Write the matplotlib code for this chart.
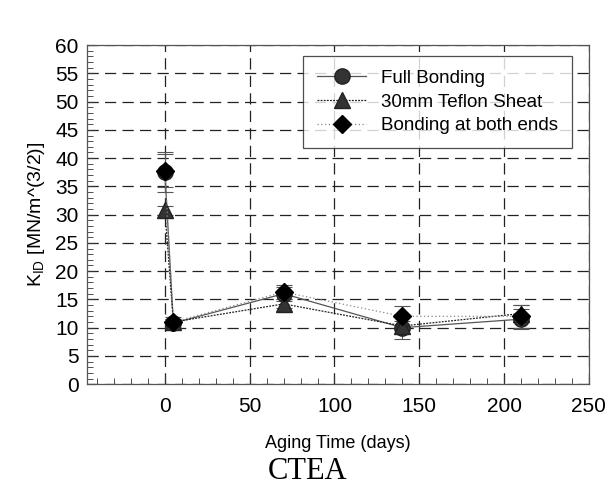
import matplotlib
matplotlib.use("Agg")
import matplotlib.pyplot as plt
from matplotlib.ticker import MultipleLocator
from matplotlib.lines import Line2D

days = [0, 5, 70, 140, 210]
full_bonding = [37.5, 10.8, 16.0, 10.0, 11.5]
full_bonding_err = [3.5, 0.8, 1.2, 2.0, 1.8]
teflon = [30.8, 11.0, 14.2, 10.3, 12.5]
teflon_err = [0.8, 0.5, 0.8, 0.8, 1.5]
both_ends = [37.8, 11.0, 16.3, 12.0, 12.0]
both_ends_err = [3.0, 0.8, 1.2, 1.8, 2.0]
labels = ['Full Bonding', '30mm Teflon Sheat', 'Bonding at both ends']

plt.rcParams['font.family'] = ['Liberation Sans', 'DejaVu Sans']

fig = plt.figure(figsize=(6.16, 4.90), dpi=100)
ax = fig.add_axes([0.141, 0.216, 0.815, 0.692])

styles = [
    dict(color='#555555', ls='-', marker='o', ms=11, mfc='#333333', mec='#222222'),
    dict(color='#222222', ls=(0, (1.5, 1)), marker='^', ms=11, mfc='#333333', mec='#222222'),
    dict(color='#888888', ls=(0, (1, 2)), marker='D', ms=9, mfc='#000000', mec='#000000'),
]
series = [(full_bonding, full_bonding_err), (teflon, teflon_err), (both_ends, both_ends_err)]

handles = []
for (vals, errs), st, lab in zip(series, styles, labels):
    ax.errorbar(days, vals, yerr=errs, lw=0.9, ecolor='#555555', elinewidth=0.8,
                capsize=6, capthick=0.8, zorder=3, **st)
    handles.append(Line2D([], [], lw=0.9, **st))

ax.set_xlim(-46, 250)
ax.set_ylim(0, 60)
ax.xaxis.set_major_locator(MultipleLocator(50))
ax.xaxis.set_minor_locator(MultipleLocator(10))
ax.yaxis.set_major_locator(MultipleLocator(5))
ax.yaxis.set_minor_locator(MultipleLocator(1))
ax.tick_params(which='both', direction='in', top=False, right=False,
               labelsize=15, color='#333333')
ax.tick_params(which='major', length=6)
ax.tick_params(which='minor', length=4)
ax.tick_params(axis='x', pad=9)
ax.tick_params(axis='y', pad=6)
ax.grid(True, which='major', color='#222222', ls=(0, (9, 5)), lw=0.9)
for s in ax.spines.values():
    s.set_color('#555555')
    s.set_linewidth(0.9)

ax.set_ylabel('K$_{\\mathregular{ID}}$ [MN/m^(3/2)]', fontsize=14, labelpad=6)
ax.set_xlabel('Aging Time (days)', fontsize=13, labelpad=14)
fig.text(0.5, 0.038, 'CTEA', fontsize=22, family='Liberation Serif',
         ha='center', va='center')

leg = ax.legend(handles, labels, loc='upper right', bbox_to_anchor=(0.978, 0.985),
                fontsize=13.5, frameon=True, fancybox=False, edgecolor='#222222',
                handlelength=2.6, borderpad=0.75, labelspacing=0.35,
                handletextpad=0.8, borderaxespad=0.3)
leg.get_frame().set_linewidth(0.9)

fig.savefig('out.png', dpi=100)
